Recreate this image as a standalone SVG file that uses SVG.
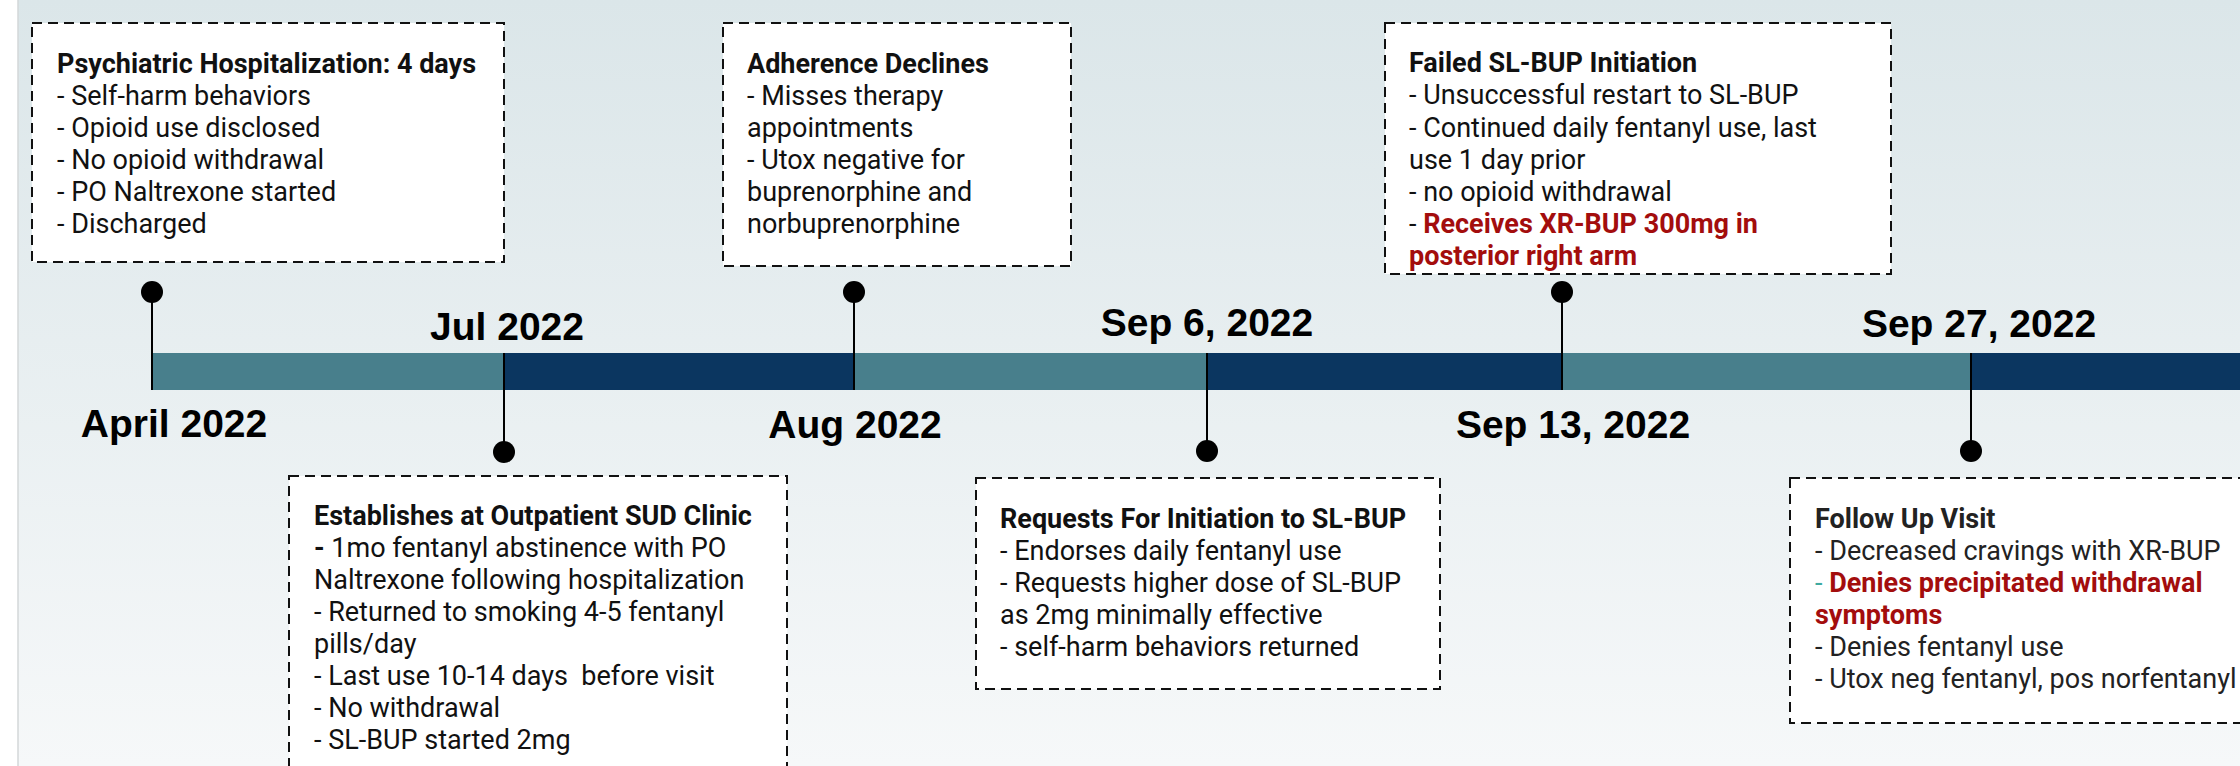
<svg xmlns="http://www.w3.org/2000/svg" width="2240" height="766" viewBox="0 0 2240 766">
  <defs>
    <linearGradient id="bg" x1="0" y1="0" x2="0" y2="1">
      <stop offset="0" stop-color="#dbe6e9"/>
      <stop offset="1" stop-color="#f6f8f9"/>
    </linearGradient>
  </defs>
  <style>
    .box { fill: #ffffff; stroke: #111111; stroke-width: 2; stroke-dasharray: 10 6; }
    .t { font-family: Roboto, "Liberation Sans", sans-serif; font-size: 27px; fill: #111111; }
    .b { font-weight: bold; }
    .red { fill: #a30d0d; font-weight: bold; }
    .date { font-family: "Liberation Sans", Arial, sans-serif; font-size: 39px; font-weight: bold; fill: #000000; text-anchor: middle; }
    .stem { stroke: #000000; stroke-width: 2; fill: none; }
    .dot { fill: #000000; }
    .teal { fill: #487f8c; }
    .navy { fill: #0b3660; }
  </style>

  <rect x="0" y="0" width="2240" height="766" fill="#ffffff"/>
  <rect x="18" y="0" width="2222" height="766" fill="url(#bg)"/>
  <line x1="18" y1="0" x2="18" y2="766" stroke="#d3d7d9" stroke-width="1.5"/>

  <g id="timeline-bar">
    <rect class="teal" x="151" y="353" width="353" height="37"/>
    <rect class="navy" x="504" y="353" width="350" height="37"/>
    <rect class="teal" x="854" y="353" width="353" height="37"/>
    <rect class="navy" x="1207" y="353" width="355" height="37"/>
    <rect class="teal" x="1562" y="353" width="409" height="37"/>
    <rect class="navy" x="1971" y="353" width="269" height="37"/>
  </g>

  <g id="connectors">
    <line class="stem" x1="152" y1="291" x2="152" y2="390"/>
    <line class="stem" x1="504" y1="353" x2="504" y2="452"/>
    <line class="stem" x1="854" y1="291" x2="854" y2="390"/>
    <line class="stem" x1="1207" y1="353" x2="1207" y2="451"/>
    <line class="stem" x1="1562" y1="291" x2="1562" y2="390"/>
    <line class="stem" x1="1971" y1="353" x2="1971" y2="451"/>
    <circle class="dot" cx="152" cy="292" r="11"/>
    <circle class="dot" cx="504" cy="452" r="11"/>
    <circle class="dot" cx="854" cy="292" r="11"/>
    <circle class="dot" cx="1207" cy="451" r="11"/>
    <circle class="dot" cx="1562" cy="292" r="11"/>
    <circle class="dot" cx="1971" cy="451" r="11"/>
  </g>

  <g id="date-labels">
    <text class="date" x="174" y="437">April 2022</text>
    <text class="date" x="507" y="340">Jul 2022</text>
    <text class="date" x="855" y="438">Aug 2022</text>
    <text class="date" x="1207" y="336">Sep 6, 2022</text>
    <text class="date" x="1573" y="438">Sep 13, 2022</text>
    <text class="date" x="1979" y="337">Sep 27, 2022</text>
  </g>

  <g id="event-hospitalization">
    <rect class="box" x="32" y="23" width="472" height="239"/>
    <text class="t b" x="57" y="73">Psychiatric Hospitalization: 4 days</text>
    <text class="t" x="57" y="105">- Self-harm behaviors</text>
    <text class="t" x="57" y="137">- Opioid use disclosed</text>
    <text class="t" x="57" y="169">- No opioid withdrawal</text>
    <text class="t" x="57" y="201">- PO Naltrexone started</text>
    <text class="t" x="57" y="233">- Discharged</text>
  </g>

  <g id="event-adherence">
    <rect class="box" x="723" y="23" width="348" height="243"/>
    <text class="t b" x="747" y="73">Adherence Declines</text>
    <text class="t" x="747" y="105">- Misses therapy</text>
    <text class="t" x="747" y="137">appointments</text>
    <text class="t" x="747" y="169">- Utox negative for</text>
    <text class="t" x="747" y="201">buprenorphine and</text>
    <text class="t" x="747" y="233">norbuprenorphine</text>
  </g>

  <g id="event-failed-initiation">
    <rect class="box" x="1385" y="23" width="506" height="251"/>
    <text class="t b" x="1409" y="72">Failed SL-BUP Initiation</text>
    <text class="t" x="1409" y="104">- Unsuccessful restart to SL-BUP</text>
    <text class="t" x="1409" y="137">- Continued daily fentanyl use, last</text>
    <text class="t" x="1409" y="169">use 1 day prior</text>
    <text class="t" x="1409" y="201">- no opioid withdrawal</text>
    <text class="t" x="1409" y="233">- <tspan class="red">Receives XR-BUP 300mg in</tspan></text>
    <text class="t red" x="1409" y="265">posterior right arm</text>
  </g>

  <g id="event-outpatient">
    <rect class="box" x="289" y="476" width="498" height="320"/>
    <text class="t b" x="314" y="525">Establishes at Outpatient SUD Clinic</text>
    <text class="t" x="314" y="557"><tspan class="b">-</tspan> 1mo fentanyl abstinence with PO</text>
    <text class="t" x="314" y="589">Naltrexone following hospitalization</text>
    <text class="t" x="314" y="621">- Returned to smoking 4-5 fentanyl</text>
    <text class="t" x="314" y="653">pills/day</text>
    <text class="t" x="314" y="685" xml:space="preserve">- Last use 10-14 days  before visit</text>
    <text class="t" x="314" y="717">- No withdrawal</text>
    <text class="t" x="314" y="749">- SL-BUP started 2mg</text>
  </g>

  <g id="event-requests">
    <rect class="box" x="976" y="478" width="464" height="211"/>
    <text class="t b" x="1000" y="528">Requests For Initiation to SL-BUP</text>
    <text class="t" x="1000" y="560">- Endorses daily fentanyl use</text>
    <text class="t" x="1000" y="592">- Requests higher dose of SL-BUP</text>
    <text class="t" x="1000" y="624">as 2mg minimally effective</text>
    <text class="t" x="1000" y="656">- self-harm behaviors returned</text>
  </g>

  <g id="event-follow-up">
    <rect class="box" x="1790" y="478" width="480" height="245"/>
    <text class="t b" x="1815" y="528" fill="#222222" style="fill:#222222">Follow Up Visit</text>
    <text class="t" x="1815" y="560" style="fill:#222222">- Decreased cravings with XR-BUP</text>
    <text class="t" x="1815" y="592"><tspan style="fill:#3fa9a0">- </tspan><tspan class="red">Denies precipitated withdrawal</tspan></text>
    <text class="t red" x="1815" y="624">symptoms</text>
    <text class="t" x="1815" y="656" style="fill:#222222">- Denies fentanyl use</text>
    <text class="t" x="1815" y="688" style="fill:#222222">- Utox neg fentanyl, pos norfentanyl</text>
  </g>
</svg>
